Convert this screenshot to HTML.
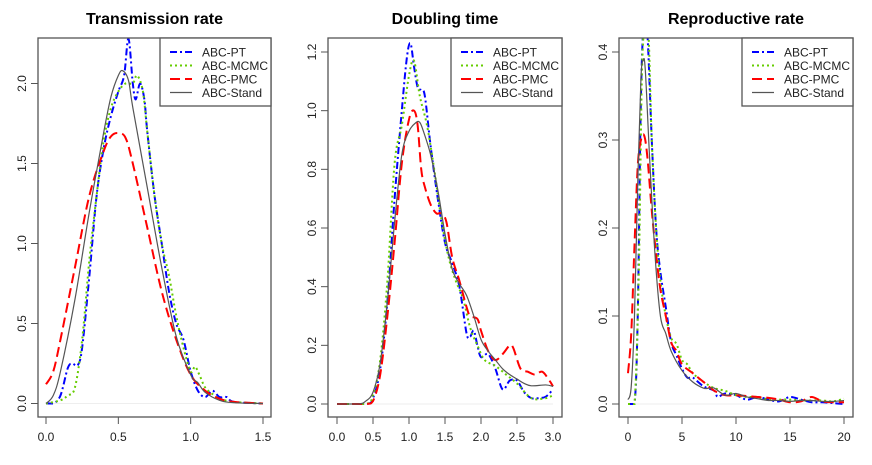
<!DOCTYPE html>
<html><head><meta charset="utf-8"><style>
body{margin:0;background:#fff;}
svg{display:block;font-family:"Liberation Sans",sans-serif;}
</style></head><body>
<svg id="chart" width="872" height="465" viewBox="0 0 872 465"></svg>
<script>
const seriesNames = ["ABC-PT","ABC-MCMC","ABC-PMC","ABC-Stand"];
const panelTitles = ["Transmission rate","Doubling time","Reproductive rate"];
const xTicks1 = [0,0.5,1,1.5];
const xTickLabels1 = ["0.0","0.5","1.0","1.5"];
const yTicks1 = [0,0.5,1,1.5,2];
const yTickLabels1 = ["0.0","0.5","1.0","1.5","2.0"];
const xTicks2 = [0,0.5,1,1.5,2,2.5,3];
const xTickLabels2 = ["0.0","0.5","1.0","1.5","2.0","2.5","3.0"];
const yTicks2 = [0,0.2,0.4,0.6,0.8,1,1.2];
const yTickLabels2 = ["0.0","0.2","0.4","0.6","0.8","1.0","1.2"];
const xTicks3 = [0,5,10,15,20];
const xTickLabels3 = ["0","5","10","15","20"];
const yTicks3 = [0,0.1,0.2,0.3,0.4];
const yTickLabels3 = ["0.0","0.1","0.2","0.3","0.4"];

const p1PT = [[0,0],[0.05,0],[0.1,0.05],[0.15,0.22],[0.18,0.25],[0.22,0.24],[0.25,0.35],[0.3,0.8],[0.35,1.3],[0.4,1.6],[0.45,1.8],[0.5,1.95],[0.54,2.05],[0.57,2.28],[0.6,2.0],[0.62,1.9],[0.65,2.0],[0.68,1.9],[0.7,1.7],[0.75,1.3],[0.8,1.0],[0.85,0.7],[0.9,0.5],[0.95,0.4],[1.0,0.2],[1.05,0.08],[1.1,0.04],[1.15,0.08],[1.2,0.04],[1.25,0.04],[1.3,0.01],[1.5,0]];
const p1MCMC = [[0,0],[0.1,0.02],[0.15,0.05],[0.2,0.1],[0.25,0.4],[0.3,0.9],[0.35,1.3],[0.4,1.65],[0.45,1.85],[0.5,1.95],[0.55,2.0],[0.6,2.0],[0.63,2.05],[0.67,1.95],[0.7,1.7],[0.75,1.3],[0.8,1.0],[0.85,0.8],[0.9,0.55],[0.95,0.35],[1.0,0.2],[1.03,0.23],[1.06,0.18],[1.1,0.1],[1.15,0.06],[1.2,0.03],[1.3,0.01],[1.5,0]];
const p1PMC = [[0,0.12],[0.05,0.2],[0.1,0.4],[0.2,0.85],[0.3,1.3],[0.4,1.58],[0.45,1.67],[0.5,1.69],[0.55,1.66],[0.6,1.5],[0.7,1.1],[0.8,0.7],[0.9,0.4],[1.0,0.18],[1.1,0.08],[1.2,0.03],[1.3,0.01],[1.5,0]];
const p1Stand = [[0,0],[0.05,0.05],[0.1,0.2],[0.2,0.65],[0.3,1.2],[0.4,1.7],[0.45,1.92],[0.5,2.05],[0.53,2.08],[0.57,2.02],[0.6,1.85],[0.7,1.35],[0.8,0.85],[0.9,0.42],[1.0,0.18],[1.05,0.13],[1.1,0.07],[1.2,0.02],[1.3,0.005],[1.5,0]];

const p2PT = [[0,0],[0.4,0],[0.5,0.02],[0.6,0.12],[0.7,0.35],[0.8,0.7],[0.9,1.0],[0.97,1.18],[1.02,1.23],[1.07,1.15],[1.12,1.08],[1.17,1.07],[1.22,1.05],[1.3,0.88],[1.4,0.7],[1.5,0.55],[1.6,0.48],[1.7,0.4],[1.8,0.24],[1.85,0.23],[1.9,0.25],[1.95,0.2],[2.0,0.16],[2.1,0.17],[2.2,0.12],[2.3,0.05],[2.4,0.08],[2.5,0.08],[2.6,0.04],[2.7,0.02],[2.8,0.02],[2.9,0.025],[3.0,0.05]];
const p2MCMC = [[0,0],[0.4,0],[0.5,0.03],[0.6,0.15],[0.7,0.42],[0.8,0.82],[0.9,0.95],[1.0,1.12],[1.07,1.17],[1.15,1.05],[1.25,0.95],[1.35,0.8],[1.45,0.63],[1.55,0.5],[1.65,0.42],[1.75,0.36],[1.85,0.26],[1.95,0.2],[2.05,0.15],[2.2,0.13],[2.35,0.1],[2.5,0.07],[2.7,0.02],[2.9,0.02],[3.0,0.03]];
const p2PMC = [[0,0],[0.4,0],[0.5,0.01],[0.6,0.1],[0.7,0.3],[0.8,0.55],[0.9,0.82],[1.0,0.97],[1.07,1.0],[1.12,0.95],[1.17,0.8],[1.22,0.74],[1.3,0.68],[1.38,0.65],[1.45,0.65],[1.52,0.62],[1.6,0.5],[1.7,0.42],[1.8,0.33],[1.85,0.3],[1.95,0.29],[2.0,0.25],[2.1,0.18],[2.2,0.15],[2.3,0.17],[2.4,0.2],[2.45,0.19],[2.55,0.12],[2.65,0.11],[2.75,0.1],[2.85,0.11],[2.95,0.08],[3.0,0.06]];
const p2Stand = [[0,0],[0.3,0],[0.4,0.01],[0.5,0.04],[0.6,0.14],[0.7,0.35],[0.8,0.62],[0.9,0.85],[1.0,0.93],[1.1,0.96],[1.15,0.96],[1.2,0.93],[1.3,0.85],[1.4,0.73],[1.5,0.58],[1.6,0.46],[1.7,0.41],[1.8,0.37],[1.9,0.3],[2.0,0.22],[2.1,0.18],[2.2,0.15],[2.3,0.12],[2.4,0.1],[2.5,0.085],[2.6,0.07],[2.7,0.062],[2.9,0.065],[3.0,0.06]];

const p3PT = [[0,0],[0.6,0],[0.9,0.1],[1.2,0.35],[1.5,0.44],[1.8,0.42],[2.2,0.3],[2.6,0.2],[3,0.15],[3.5,0.11],[4,0.07],[4.5,0.055],[5,0.04],[5.5,0.03],[6,0.03],[7,0.02],[8,0.015],[8.3,0.008],[9,0.012],[10,0.01],[11,0.005],[12,0.008],[13,0.005],[14,0.003],[15,0.008],[16,0.005],[17,0.002],[18,0.002],[19,0.001],[20,0]];
const p3MCMC = [[0,0],[0.6,0],[1,0.15],[1.3,0.38],[1.6,0.43],[1.9,0.42],[2.2,0.3],[2.6,0.2],[3,0.14],[3.5,0.1],[4,0.075],[4.5,0.068],[5,0.05],[5.5,0.045],[6,0.035],[7,0.025],[8,0.018],[9,0.015],[10,0.01],[11,0.008],[12,0.008],[13,0.005],[14,0.005],[15,0.005],[16,0.004],[17,0.004],[18,0.004],[19,0.003],[20,0.006]];
const p3PMC = [[0,0.035],[0.3,0.08],[0.6,0.18],[0.9,0.27],[1.2,0.3],[1.5,0.305],[1.8,0.28],[2.2,0.22],[2.6,0.17],[3,0.13],[3.5,0.1],[4,0.07],[4.5,0.06],[5,0.045],[6,0.035],[7,0.025],[8,0.015],[9,0.01],[10,0.01],[11,0.009],[12,0.008],[13,0.007],[14,0.005],[15,0.002],[16,0.003],[17,0.008],[18,0.003],[19,0.002],[20,0.002]];
const p3Stand = [[0,0.005],[0.3,0.02],[0.6,0.1],[0.9,0.25],[1.2,0.37],[1.4,0.39],[1.6,0.38],[2,0.28],[2.5,0.17],[3,0.1],[3.5,0.08],[4,0.06],[5,0.038],[6,0.025],[7,0.018],[7.5,0.018],[8,0.018],[9,0.01],[10,0.012],[11,0.008],[12,0.006],[13,0.004],[14,0.004],[15,0.003],[16,0.004],[17,0.004],[18,0.003],[19,0.003],[20,0.004]];

const NS = "http://www.w3.org/2000/svg";
const svg = document.getElementById("chart");
const styles = [
  {stroke:"#0000ff", dash:"7,3,2,3", w:2},
  {stroke:"#66cc00", dash:"2,3", w:2},
  {stroke:"#ff0000", dash:"10,5", w:2},
  {stroke:"#555555", dash:"", w:1.2}
];
function mk(tag, attrs, parent){
  const e = document.createElementNS(NS, tag);
  for (const k in attrs) e.setAttribute(k, attrs[k]);
  (parent||svg).appendChild(e);
  return e;
}
function smoothPath(pts, base){
  let d = "M" + pts[0][0].toFixed(2) + "," + pts[0][1].toFixed(2);
  for (let i=0;i<pts.length-1;i++){
    const p0 = pts[Math.max(0,i-1)], p1 = pts[i], p2 = pts[i+1], p3 = pts[Math.min(pts.length-1,i+2)];
    const c1x = p1[0]+(p2[0]-p0[0])/6, c1y = Math.min(base, p1[1]+(p2[1]-p0[1])/6);
    const c2x = p2[0]-(p3[0]-p1[0])/6, c2y = Math.min(base, p2[1]-(p3[1]-p1[1])/6);
    d += " C"+c1x.toFixed(2)+","+c1y.toFixed(2)+" "+c2x.toFixed(2)+","+c2y.toFixed(2)+" "+p2[0].toFixed(2)+","+p2[1].toFixed(2);
  }
  return d;
}
const panels = [
  {id:1, box:[38,38,271,417], x0:46, x1:263, xmax:1.5, y0:403.5, y1:83.5, ymax:2.0, xt:xTicks1, xl:xTickLabels1, yt:yTicks1, yl:yTickLabels1, series:[p1PT,p1MCMC,p1PMC,p1Stand]},
  {id:2, box:[328,38,562,417], x0:337, x1:553, xmax:3.0, y0:404, y1:52, ymax:1.2, xt:xTicks2, xl:xTickLabels2, yt:yTicks2, yl:yTickLabels2, series:[p2PT,p2MCMC,p2PMC,p2Stand]},
  {id:3, box:[619,38,853,417], x0:628, x1:844, xmax:20, y0:404, y1:52, ymax:0.4, xt:xTicks3, xl:xTickLabels3, yt:yTicks3, yl:yTickLabels3, series:[p3PT,p3MCMC,p3PMC,p3Stand]}
];
panels.forEach((P, pi) => {
  const g = mk("g", {});
  
  
  const xs = v => P.x0 + v/P.xmax*(P.x1-P.x0);
  const ys = v => P.y0 - v/P.ymax*(P.y0-P.y1);
  const [bx0,by0,bx1,by1] = P.box;
  const cx = (bx0+bx1)/2;
  const t = mk("text", {x:cx, y:24, "text-anchor":"middle", "font-size":"16", "font-weight":"bold", fill:"#000"}, g);
  t.textContent = panelTitles[pi];
  
  
  const clip = mk("clipPath", {id:"clip"+pi}, g);
  mk("rect", {x:bx0, y:by0, width:bx1-bx0, height:by1-by0}, clip);
  mk("line", {x1:xs(0), x2:xs(P.xmax), y1:ys(0), y2:ys(0), stroke:"#eeeeee", "stroke-width":1}, g);
  const lg = mk("g", {"clip-path":"url(#clip"+pi+")"}, g);
  P.series.forEach((s, si) => {
    const pts = s.map(p => [xs(p[0]), ys(p[1])]);
    const path = mk("path", {d:smoothPath(pts, ys(0)), fill:"none", stroke:styles[si].stroke, "stroke-width":styles[si].w, "stroke-dasharray":styles[si].dash}, lg);
    
    
  });
  const box = mk("rect", {x:bx0, y:by0, width:bx1-bx0, height:by1-by0, fill:"none", stroke:"#555", "stroke-width":1.3}, g);
  
  
  mk("line", {x1:xs(P.xt[0]), x2:xs(P.xt[P.xt.length-1]), y1:by1, y2:by1, stroke:"#555"}, g);
  P.xt.forEach((v, i) => {
    mk("line", {x1:xs(v), x2:xs(v), y1:by1, y2:by1+7, stroke:"#555"}, g);
    const tl = mk("text", {x:xs(v), y:441, "text-anchor":"middle", "font-size":"12", fill:"#222"}, g);
    tl.textContent = P.xl[i];
    
    
  });
  mk("line", {x1:bx0, x2:bx0, y1:ys(P.yt[0]), y2:ys(P.yt[P.yt.length-1]), stroke:"#555"}, g);
  P.yt.forEach((v, i) => {
    mk("line", {x1:bx0-7, x2:bx0, y1:ys(v), y2:ys(v), stroke:"#555"}, g);
    const tl = mk("text", {x:0, y:0, "text-anchor":"middle", "font-size":"12", fill:"#222", transform:"translate("+(bx0-12)+","+ys(v)+") rotate(-90)"}, g);
    tl.textContent = P.yl[i];
    
    
  });
  const lx = bx1 - 111;
  const leg = mk("g", {}, g);
  
  
  mk("rect", {x:lx, y:by0, width:111, height:68, fill:"#fff", stroke:"#555", "stroke-width":1.3}, leg);
  seriesNames.forEach((n, si) => {
    const yy = by0 + 14 + si*13.5;
    const e = mk("g", {}, leg);
    
    
    mk("line", {x1:lx+10, x2:lx+32, y1:yy, y2:yy, stroke:styles[si].stroke, "stroke-width":styles[si].w, "stroke-dasharray":styles[si].dash}, e);
    const tx = mk("text", {x:lx+42, y:yy+4.5, "font-size":"12", fill:"#222"}, e);
    tx.textContent = n;
  });
});
</script>
</body></html>
